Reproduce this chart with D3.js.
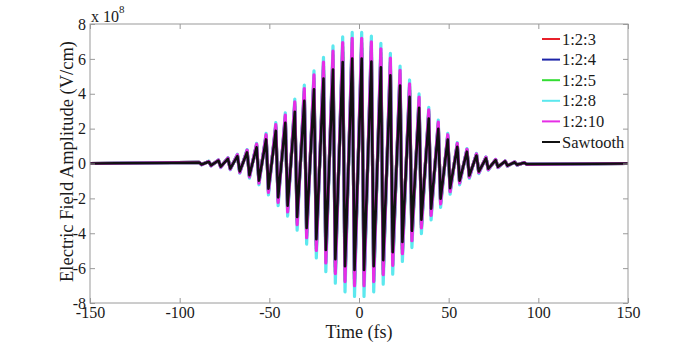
<!DOCTYPE html>
<html>
<head>
<meta charset="utf-8">
<script src="https://cdn.jsdelivr.net/npm/d3@7/dist/d3.min.js"></script>
<style>
  body { margin: 0; background: #fff; }
</style>
</head>
<body>
<div id="chart"></div>
<script>
// time (fs) of each crest and each following trough
const peakTimes = [-89.1,-83.8,-78.4,-73.1,-67.8,-62.4,-57.1,-51.8,-46.4,-41.1,-35.8,-30.5,-25.1,-19.8,-14.5,-9.1,-3.8,1.5,6.9,12.2,17.5,22.9,28.2,33.5,38.9,44.2,49.5,54.8,60.2,65.5,70.8,76.2,81.5,86.8,92.2];
const troughTimes = [-87.8,-82.5,-77.1,-71.8,-66.5,-61.1,-55.8,-50.5,-45.1,-39.8,-34.5,-29.2,-23.8,-18.5,-13.2,-7.8,-2.5,2.8,8.2,13.5,18.8,24.2,29.5,34.8,40.2,45.5,50.8,56.1,61.5,66.8,72.1,77.5,82.8,88.1,93.5];

// amplitudes in units of 1e8 V/cm
const redPeaks = [0.06,0.11,0.18,0.29,0.45,0.67,0.97,1.45,1.97,2.44,3.11,3.78,4.47,5.12,5.66,6.11,6.32,6.32,6.14,5.79,5.31,4.7,4.02,3.35,2.7,2.09,1.45,1.01,0.71,0.49,0.32,0.2,0.13,0.08,0.04];
const redTroughs = [-0.06,-0.11,-0.18,-0.29,-0.45,-0.67,-0.97,-1.45,-1.97,-2.44,-3.11,-3.78,-4.47,-5.12,-5.66,-6.11,-6.32,-6.32,-6.14,-5.79,-5.31,-4.7,-4.02,-3.35,-2.7,-2.09,-1.45,-1.01,-0.71,-0.49,-0.32,-0.2,-0.13,-0.08,-0.04];
const bluePeaks = [0.06,0.11,0.18,0.3,0.47,0.7,1.02,1.52,2.06,2.56,3.26,3.96,4.68,5.36,5.93,6.4,6.62,6.62,6.43,6.06,5.56,4.92,4.22,3.51,2.83,2.19,1.52,1.06,0.75,0.51,0.33,0.21,0.13,0.08,0.04];
const blueTroughs = [-0.06,-0.11,-0.18,-0.3,-0.47,-0.7,-1.02,-1.52,-2.06,-2.56,-3.26,-3.96,-4.68,-5.36,-5.93,-6.4,-6.62,-6.62,-6.43,-6.06,-5.56,-4.92,-4.22,-3.51,-2.83,-2.19,-1.52,-1.06,-0.75,-0.51,-0.33,-0.21,-0.13,-0.08,-0.04];
const greenPeaks = [0.06,0.12,0.19,0.31,0.49,0.74,1.07,1.59,2.15,2.68,3.4,4.14,4.89,5.6,6.2,6.69,6.92,6.92,6.73,6.34,5.81,5.14,4.41,3.67,2.96,2.29,1.59,1.1,0.78,0.53,0.35,0.22,0.14,0.08,0.05];
const greenTroughs = [-0.06,-0.12,-0.19,-0.31,-0.49,-0.74,-1.07,-1.59,-2.15,-2.68,-3.4,-4.14,-4.89,-5.6,-6.2,-6.69,-6.92,-6.92,-6.73,-6.34,-5.81,-5.14,-4.41,-3.67,-2.96,-2.29,-1.59,-1.1,-0.78,-0.53,-0.35,-0.22,-0.14,-0.08,-0.05];
const cyanPeaks = [0.07,0.13,0.21,0.34,0.53,0.8,1.16,1.73,2.34,2.91,3.7,4.5,5.32,6.09,6.74,7.27,7.52,7.52,7.31,6.89,6.32,5.59,4.79,3.99,3.22,2.49,1.73,1.2,0.85,0.58,0.38,0.24,0.15,0.09,0.05];
const cyanTroughs = [-0.08,-0.14,-0.23,-0.36,-0.56,-0.84,-1.22,-1.8,-2.42,-3.02,-3.82,-4.62,-5.42,-6.2,-6.86,-7.36,-7.62,-7.62,-7.36,-6.92,-6.35,-5.62,-4.82,-4.02,-3.24,-2.52,-1.76,-1.22,-0.86,-0.58,-0.38,-0.24,-0.15,-0.09,-0.05];
const magentaPeaks = [0.07,0.12,0.2,0.32,0.51,0.76,1.11,1.65,2.23,2.78,3.53,4.3,5.08,5.82,6.44,6.94,7.18,7.18,6.98,6.58,6.04,5.34,4.57,3.81,3.08,2.38,1.65,1.15,0.81,0.55,0.36,0.23,0.14,0.09,0.05];
const magentaTroughs = [-0.07,-0.13,-0.21,-0.33,-0.52,-0.77,-1.12,-1.66,-2.23,-2.78,-3.51,-4.25,-4.99,-5.7,-6.31,-6.77,-7.01,-7.01,-6.77,-6.37,-5.84,-5.17,-4.43,-3.7,-2.98,-2.32,-1.62,-1.12,-0.79,-0.53,-0.35,-0.22,-0.14,-0.08,-0.05];
const sawPeaks = [0.06,0.1,0.17,0.27,0.42,0.64,0.93,1.38,1.87,2.33,2.96,3.6,4.26,4.87,5.39,5.82,6.02,6.02,5.85,5.51,5.06,4.47,3.83,3.19,2.58,1.99,1.38,0.96,0.68,0.46,0.3,0.19,0.12,0.07,0.04];
const sawTroughs = [-0.06,-0.11,-0.18,-0.29,-0.45,-0.67,-0.98,-1.44,-1.94,-2.42,-3.06,-3.7,-4.34,-4.96,-5.49,-5.89,-6.1,-6.1,-5.89,-5.54,-5.08,-4.5,-3.86,-3.22,-2.59,-2.02,-1.41,-0.98,-0.69,-0.46,-0.3,-0.19,-0.12,-0.07,-0.04];

const seriesNames = ["1:2:3", "1:2:4", "1:2:5", "1:2:8", "1:2:10", "Sawtooth"];
const seriesColors = ["#e8202a", "#1c24a8", "#33dd33", "#5ce8ee", "#e62ee6", "#111111"];
const seriesPeaks = [redPeaks, bluePeaks, greenPeaks, cyanPeaks, magentaPeaks, sawPeaks];
const seriesTroughs = [redTroughs, blueTroughs, greenTroughs, cyanTroughs, magentaTroughs, sawTroughs];

const xTicks = [-150, -100, -50, 0, 50, 100, 150];
const yTicks = [-8, -6, -4, -2, 0, 2, 4, 6, 8];

const serif = '"Liberation Serif", "Times New Roman", "DejaVu Serif", serif';

// set the dimensions and margins of the graph
var margin = {top: 24, right: 66, bottom: 39, left: 90},
    width = 694 - margin.left - margin.right,
    height = 342 - margin.top - margin.bottom;

var svg = d3.select("#chart").append("svg")
    .attr("width", 694)
    .attr("height", 342)
  .append("g")
    .attr("transform", "translate(" + margin.left + "," + margin.top + ")");

var x = d3.scaleLinear().domain([-150, 150]).range([0, width]);
var y = d3.scaleLinear().domain([-8, 8]).range([height, 0]);

// waveforms
var line = d3.line()
    .x(function(d) { return x(d[0]); })
    .y(function(d) { return y(d[1]); });

seriesNames.forEach(function(name, i) {
    var pts = [[-150, 0]];
    peakTimes.forEach(function(t, k) {
        pts.push([t, seriesPeaks[i][k]]);
        pts.push([troughTimes[k], seriesTroughs[i][k]]);
    });
    pts.push([150, 0]);
    svg.append("path")
        .datum(pts)
        .attr("fill", "none")
        .attr("stroke", seriesColors[i])
        .attr("stroke-width", i == 5 ? 2.6 : 3.2)
        .attr("stroke-linejoin", "round")
        .attr("d", line);
});

// axes (box with inward ticks), plain hyphen for minus like the original
var plain = function(d) { return String(d); };

function styleAxis(g) {
    g.attr("font-family", null);
    g.select(".domain").remove();
    g.selectAll(".tick line").attr("stroke", "#9a9a9a");
    g.selectAll(".tick text")
        .style("font-family", serif)
        .style("font-size", "16px")
        .attr("fill", "#1a1a1a");
}

svg.append("g")
    .attr("transform", "translate(0," + height + ")")
    .call(d3.axisBottom(x).tickValues(xTicks).tickFormat(plain).tickSize(-5).tickPadding(4))
    .call(styleAxis);
svg.append("g")
    .call(d3.axisTop(x).tickValues(xTicks).tickSize(-5).tickFormat(""))
    .call(styleAxis);
svg.append("g")
    .call(d3.axisLeft(y).tickValues(yTicks).tickFormat(plain).tickSize(-5).tickPadding(4))
    .call(styleAxis);
svg.append("g")
    .attr("transform", "translate(" + width + ",0)")
    .call(d3.axisRight(y).tickValues(yTicks).tickSize(-5).tickFormat(""))
    .call(styleAxis);

svg.append("rect")
    .attr("width", width)
    .attr("height", height)
    .attr("fill", "none")
    .attr("stroke", "#9a9a9a")
    .attr("stroke-width", 1);

// exponent
var expo = svg.append("text")
    .attr("x", 1)
    .attr("y", -2)
    .style("font-family", serif)
    .style("font-size", "16px")
    .attr("fill", "#1a1a1a");
expo.append("tspan").text("x 10");
expo.append("tspan").attr("dy", -9).style("font-size", "11px").text("8");

// legend
var legend = svg.append("g").attr("transform", "translate(" + (width - 86) + ",15)");
seriesNames.forEach(function(name, i) {
    legend.append("line")
        .attr("x1", 0).attr("x2", 18)
        .attr("y1", i * 20.6).attr("y2", i * 20.6)
        .attr("stroke", seriesColors[i])
        .attr("stroke-width", 2);
    legend.append("text")
        .attr("x", 20)
        .attr("y", i * 20.6 + 5.5)
        .style("font-family", serif)
        .style("font-size", "16.5px")
        .attr("fill", "#1a1a1a")
        .text(name);
});

// Add X axis label
svg.append("text")
    .attr("text-anchor", "middle")
    .attr("x", width / 2)
    .attr("y", height + 35)
    .style("font-family", serif)
    .style("font-size", "18px")
    .attr("fill", "#1a1a1a")
    .text("Time (fs)");

// Add Y axis label
svg.append("text")
    .attr("transform", "rotate(-90)")
    .attr("x", -height / 2 + 2)
    .attr("y", -17)
    .attr("text-anchor", "middle")
    .style("font-family", serif)
    .style("font-size", "18.5px")
    .attr("fill", "#1a1a1a")
    .text("Electric Field Amplitude (V/cm)");
</script>
</body>
</html>
